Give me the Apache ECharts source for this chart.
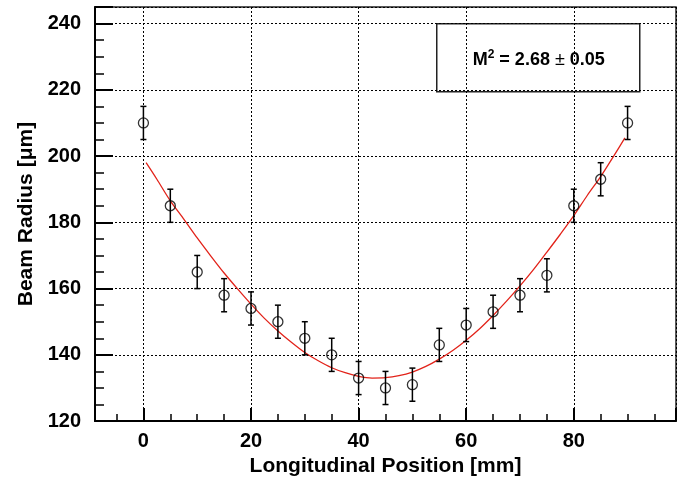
<!DOCTYPE html>
<html>
<head>
<meta charset="utf-8">
<script src="https://cdn.jsdelivr.net/npm/echarts@6/dist/echarts.min.js"></script>
<style>
html,body{margin:0;padding:0;background:#fff;}
#c{width:683px;height:482px;}
</style>
</head>
<body>
<div id="c"></div>
<script>
// Measured data points (position in mm, beam radius in µm, error in µm)
var positions = [0, 5, 10, 15, 20, 25, 30, 35, 40, 45, 50, 55, 60, 65, 70, 75, 80, 85, 90];
var radii = [210, 185, 165, 158, 154, 150, 145, 140, 133, 130, 131, 143, 149, 153, 158, 164, 185, 193, 210];
var errors = [5, 5, 5, 5, 5, 5, 5, 5, 5, 5, 5, 5, 5, 5, 5, 5, 5, 5, 5];
// Fit curve
var fitX = [0.5, 2.5, 5, 7.5, 10, 12.5, 15, 17.5, 20, 22.5, 25, 27.5, 30, 32.5, 35, 37.5, 40, 42.5, 45, 47.5, 50, 52.5, 55, 57.5, 60, 62.5, 65, 67.5, 70, 72.5, 75, 77.5, 80, 82.5, 85, 87.5, 89.5];
var fitY = [198, 193, 186.5, 181, 175.3, 169.9, 164.7, 159.9, 155.3, 151, 147.2, 143.8, 140.7, 138.2, 136.1, 134.6, 133.5, 133, 133.1, 133.7, 134.8, 136.5, 138.7, 141.3, 144.4, 147.9, 151.9, 156.2, 160.8, 165.7, 171, 176.4, 182, 188.1, 193.8, 200.2, 205.5];
var xTicks = [0, 20, 40, 60, 80];
var yTicks = [120, 140, 160, 180, 200, 220, 240];

var FONT = '"Liberation Sans", Arial, sans-serif';
var chart = echarts.init(document.getElementById('c'));

var points = positions.map(function (x, i) { return [x, radii[i]]; });
var bars = positions.map(function (x, i) { return [x, radii[i] - errors[i], radii[i] + errors[i]]; });
var fit = fitX.map(function (x, i) { return [x, fitY[i]]; });

function errRender(params, api) {
  var lo = api.coord([api.value(0), api.value(1)]);
  var hi = api.coord([api.value(0), api.value(2)]);
  var hw = 3;
  var st = { stroke: '#000', lineWidth: 1.5 };
  return {
    type: 'group',
    children: [
      { type: 'line', shape: { x1: lo[0], y1: lo[1], x2: hi[0], y2: hi[1] }, style: st },
      { type: 'line', shape: { x1: lo[0] - hw, y1: lo[1], x2: lo[0] + hw, y2: lo[1] }, style: st },
      { type: 'line', shape: { x1: hi[0] - hw, y1: hi[1], x2: hi[0] + hw, y2: hi[1] }, style: st }
    ]
  };
}

chart.setOption({
  backgroundColor: '#fff',
  animation: false,
  grid: {
    left: 95, right: 7, top: 7, bottom: 60,
    show: true, borderColor: '#222', borderWidth: 1.5, backgroundColor: 'transparent'
  },
  xAxis: {
    type: 'value', min: -9, max: 99, minInterval: 20, maxInterval: 20,
    name: 'Longitudinal Position [mm]', nameLocation: 'middle', nameGap: 28,
    nameTextStyle: { fontFamily: FONT, fontWeight: 'bold', fontSize: 21, color: '#000' },
    axisLine: { show: true, onZero: false, lineStyle: { color: '#000', width: 2 } },
    axisTick: { show: true, inside: true, length: 13, lineStyle: { color: '#000', width: 2 } },
    minorTick: { show: true, splitNumber: 4, length: 7, lineStyle: { color: '#000', width: 1.5 } },
    axisLabel: {
      margin: 10, fontFamily: FONT, fontWeight: 'bold', fontSize: 20, color: '#000',
      formatter: function (v) { return xTicks.indexOf(v) >= 0 ? String(v) : ''; }
    },
    splitLine: { show: true, lineStyle: { color: '#000', width: 1, type: [2, 2] } }
  },
  yAxis: {
    type: 'value', min: 120, max: 245, interval: 20,
    name: 'Beam Radius [μm]', nameLocation: 'middle', nameGap: 58,
    nameTextStyle: { fontFamily: FONT, fontWeight: 'bold', fontSize: 21, color: '#000' },
    axisLine: { show: true, onZero: false, lineStyle: { color: '#000', width: 2 } },
    axisTick: { show: true, inside: true, length: 18, lineStyle: { color: '#000', width: 2 } },
    minorTick: { show: true, splitNumber: 4, length: 9, lineStyle: { color: '#000', width: 1.5 } },
    axisLabel: {
      margin: 14, fontFamily: FONT, fontWeight: 'bold', fontSize: 20, color: '#000',
      formatter: function (v) { return yTicks.indexOf(v) >= 0 ? String(v) : ''; }
    },
    splitLine: { show: true, lineStyle: { color: '#000', width: 1, type: [2, 2] } }
  },
  series: [
    {
      type: 'line', data: fit, smooth: 0.3, showSymbol: false, symbol: 'none',
      lineStyle: { color: '#e2231a', width: 1.3 }, z: 3
    },
    {
      type: 'custom', data: bars, renderItem: errRender, z: 4
    },
    {
      type: 'scatter', data: points, symbol: 'circle', symbolSize: 10,
      itemStyle: { color: 'rgba(0,0,0,0)', borderColor: '#000', borderWidth: 1.3 }, z: 5
    }
  ],
  graphic: [
    {
      type: 'group', left: 436, top: 23,
      children: [
        { type: 'rect', shape: { x: 0, y: 0, width: 203, height: 68 },
          style: { fill: '#fff', stroke: '#222', lineWidth: 1.5 } },
        { type: 'text', x: 102, y: 36,
          style: {
            text: '{b|M}{s|2}{b| = 2.68 }{n|±}{b| 0.05}',
            align: 'center', verticalAlign: 'middle',
            rich: {
              b: { fontFamily: FONT, fontWeight: 'bold', fontSize: 18, fill: '#000' },
              n: { fontFamily: FONT, fontSize: 18, fill: '#000' },
              s: { fontFamily: FONT, fontWeight: 'bold', fontSize: 12, fill: '#000', verticalAlign: 'top', padding: [0, 0, 10, 0] }
            }
          }
        }
      ]
    }
  ]
});
</script>
</body>
</html>
